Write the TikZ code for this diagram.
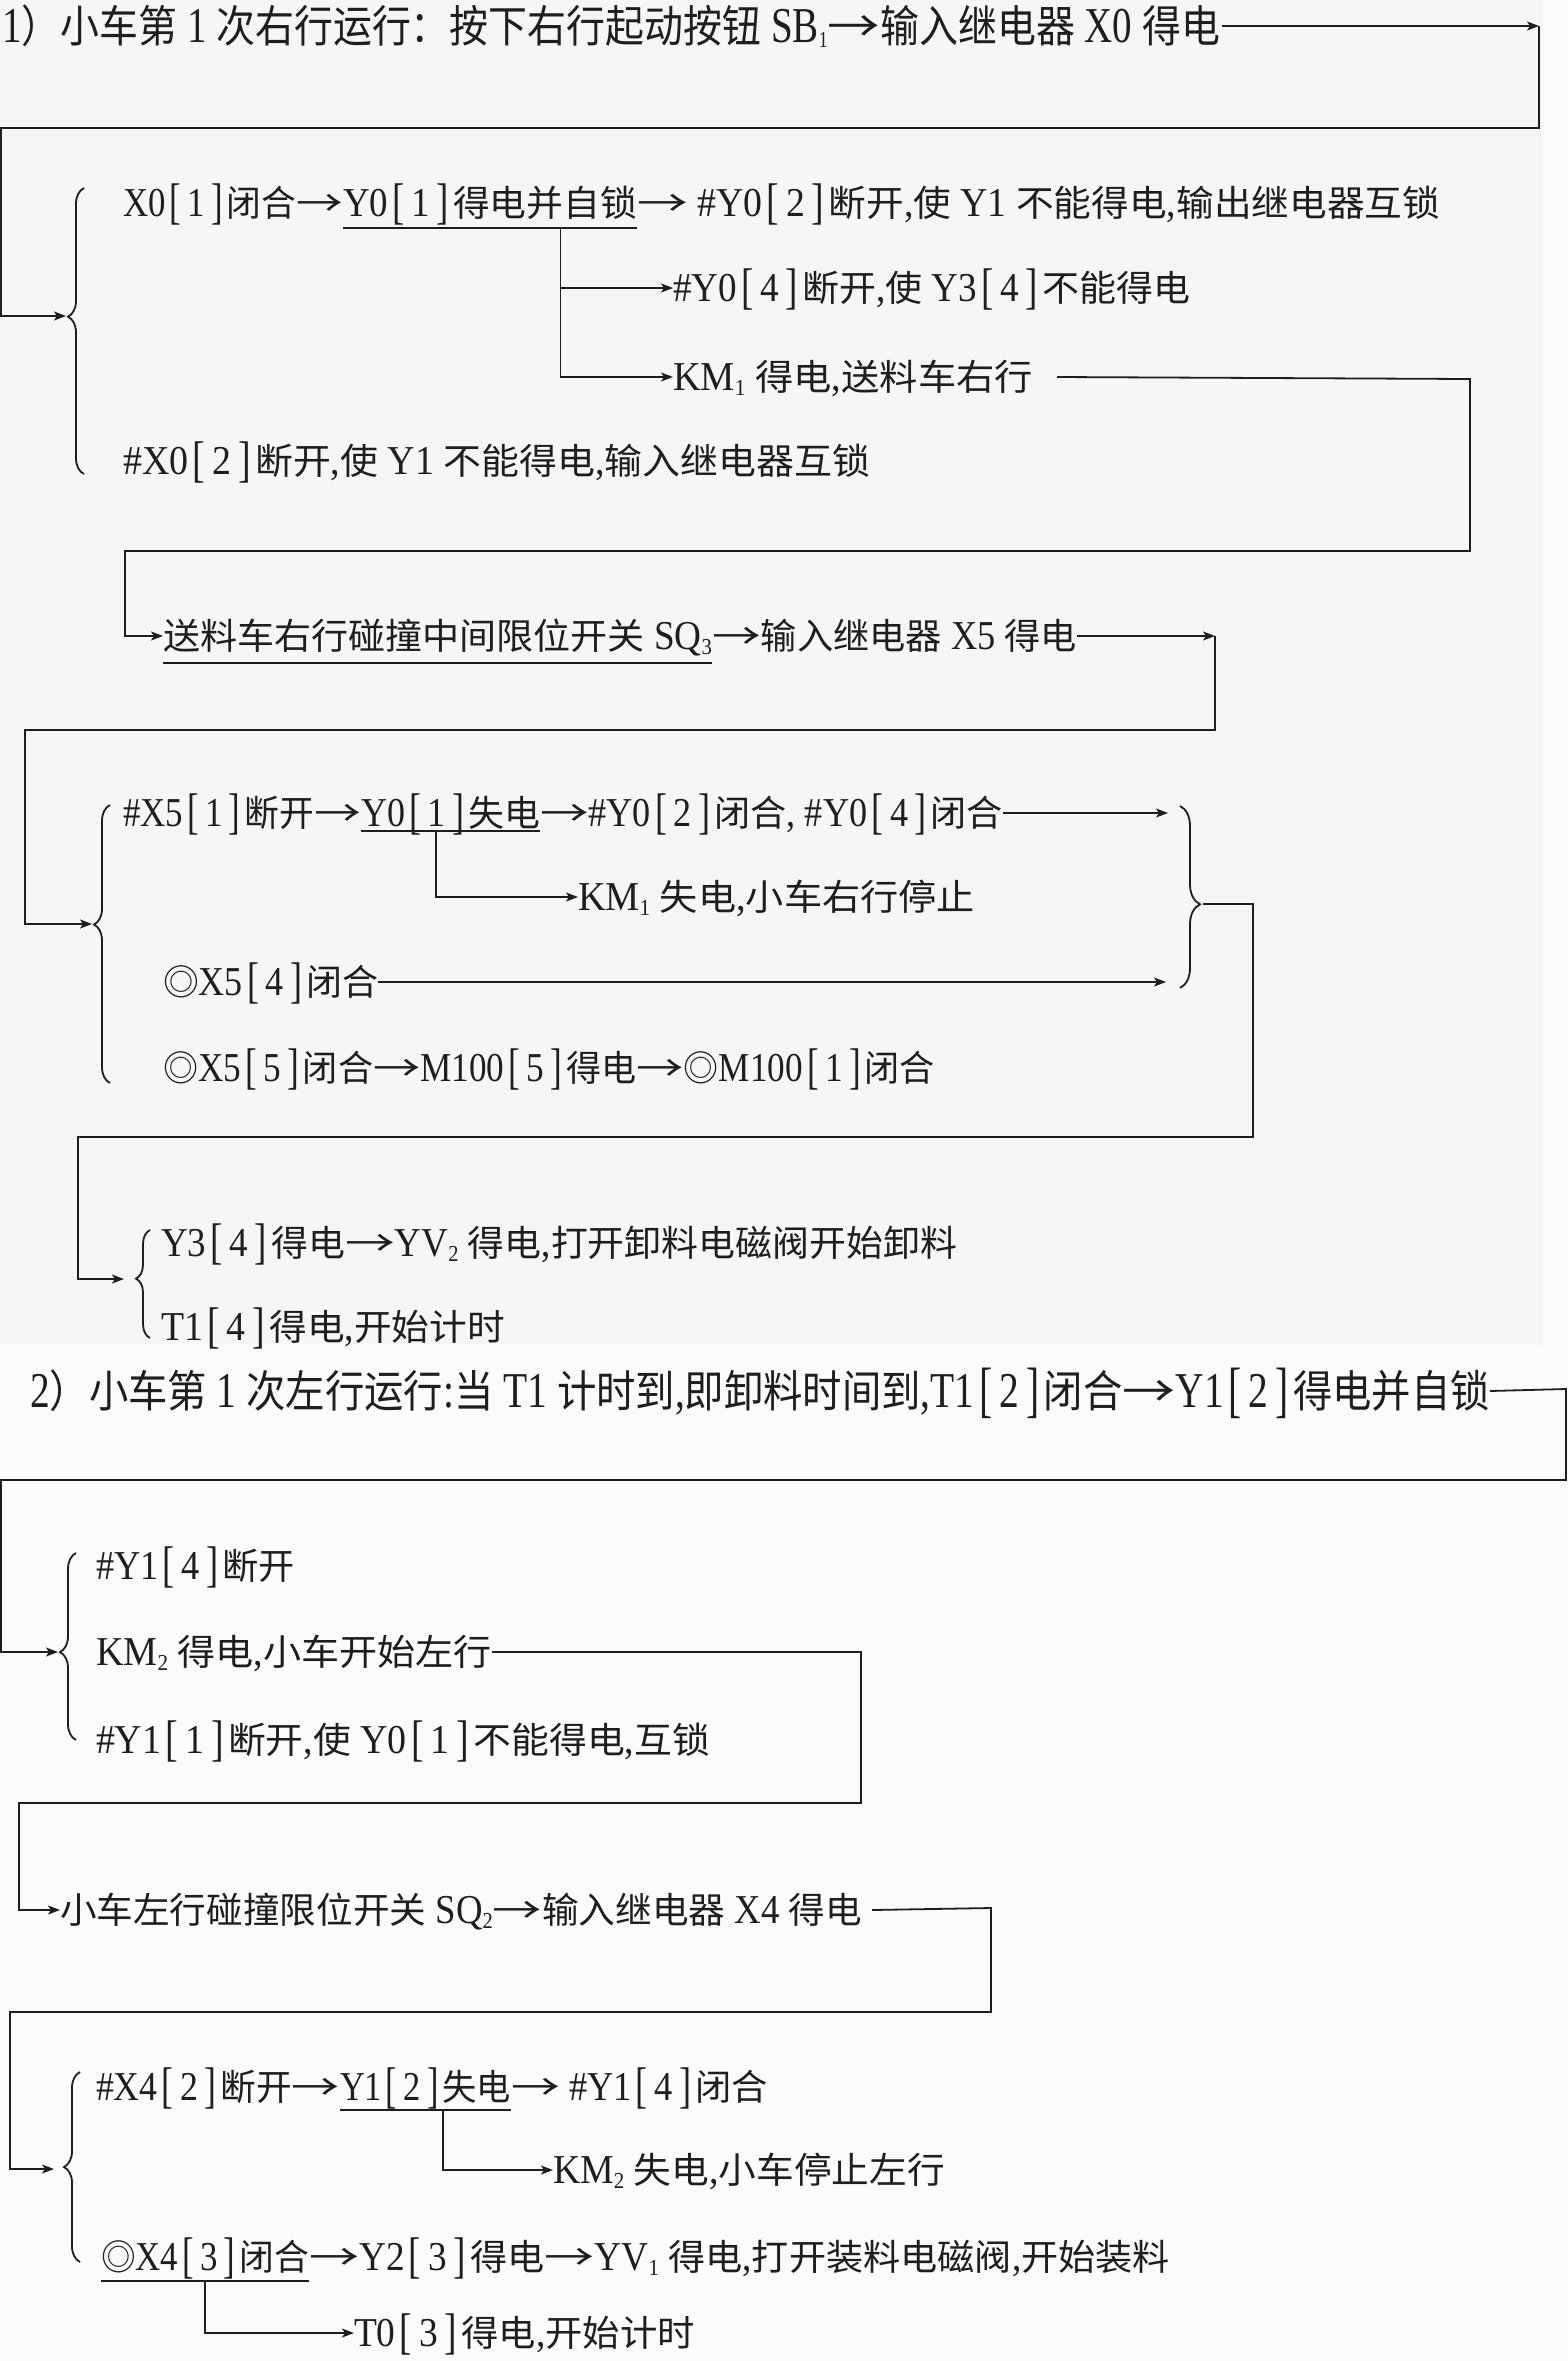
\documentclass[tikz,border=0pt]{standalone}
\usepackage{fontspec}
\usepackage{graphicx}
\setmainfont[Scale=1.14,FakeStretch=0.88]{Liberation Serif}
\newfontfamily\cjkfont{Noto Sans CJK SC}
\usetikzlibrary{arrows.meta,decorations.pathreplacing,calc}
\chardef\CJKcls=7
\makeatletter
\count@="4E00
\loop\XeTeXcharclass\count@=\CJKcls\advance\count@\@ne\ifnum\count@<"A000\repeat
\count@="3000
\loop\XeTeXcharclass\count@=\CJKcls\advance\count@\@ne\ifnum\count@<"3040\repeat
\count@="FF00
\loop\XeTeXcharclass\count@=\CJKcls\advance\count@\@ne\ifnum\count@<"FFF0\repeat
\makeatother
\XeTeXcharclass"25CE=\CJKcls
\XeTeXinterchartoks 0 \CJKcls={\cjkfont}
\XeTeXinterchartoks 4095 \CJKcls={\cjkfont}
\XeTeXinterchartoks \CJKcls 0={\rmfamily}
\XeTeXinterchartoks \CJKcls 4095={\rmfamily}
\XeTeXinterchartokenstate=1
\newcommand\dsub[1]{\raisebox{-5pt}{\fontsize{20}{20}\selectfont #1}}
\newcommand\ar{{\cjkfont\scalebox{1.35}[1]{→}}}
\newcommand\bk[1]{\kern0.1em\raisebox{-0.06em}{\scalebox{1}[1.22]{[}}\kern0.16em#1\kern0.16em\raisebox{-0.06em}{\scalebox{1}[1.22]{]}}\kern0.1em}
\newcommand\fitx[2]{\resizebox{#1pt}{\height}{#2}}
\definecolor{ink}{HTML}{1E1E1E}
\definecolor{bgtop}{HTML}{F6F6F6}
\definecolor{bgbot}{HTML}{FBFBFB}
\tikzset{
  every node/.style={inner sep=0pt, outer sep=0pt, text height=27pt, text depth=0pt,
    font=\fontsize{36}{44}\selectfont, text=ink},
  row/.style={anchor=west},
  nxt/.style={anchor=west},
  ttl/.style={anchor=west, text height=33pt, font=\fontsize{44}{52}\selectfont},
  ln/.style={line width=1.8pt, draw=ink},
  arr/.style={ln, -{Stealth[length=12pt,width=9pt,inset=3pt]}},
  brc/.style={ln, decorate, decoration={brace, amplitude=#1}},
}
\begin{document}
\begin{tikzpicture}[x=1pt,y=-1pt]
\useasboundingbox (0,0) rectangle (1568,2361);
\fill[bgbot] (0,0) rectangle (1568,2361);
\fill[bgtop] (0,0) rectangle (1543,1345);

% ---------- section 1 ----------
\node[ttl] (t1) at (2,26) {\fitx{1218}{1）小车第 1 次右行运行：按下右行起动按钮 SB\dsub{1}\ar 输入继电器 X0 得电}};
\coordinate (k1) at (1539,26);
\coordinate (br1) at (66,316);
\draw[arr] ([xshift=2pt]t1.east) -- (k1);
\draw[arr] (k1) -- (1539,128) -- (1,128) |- (br1);
\draw[brc=16pt, decoration={aspect=0.55}] (84,474) -- (84,188);

\node[row] (a1) at (123,203) {\fitx{220}{X0\bk{1}闭合\ar}};
\node[nxt] (a2) at (a1.east) {\fitx{294}{Y0\bk{1}得电并自锁}};
\node[nxt] (a3) at (a2.east) {\fitx{803}{\ar\ \#Y0\bk{2}断开,使 Y1 不能得电,输出继电器互锁}};
\draw[ln] ($(a2.west)+(0,25)$) -- ($(a2.east)+(0,25)$);
\coordinate (u1) at ($(a2.west)!0.74!(a2.east)+(0,25)$);
\node[row] (b2) at (673,288) {\fitx{517}{\#Y0\bk{4}断开,使 Y3\bk{4}不能得电}};
\node[row] (b3) at (673,377) {\fitx{360}{KM\dsub{1} 得电,送料车右行}};
\draw[arr] (u1) |- (b3.west);
\draw[arr] (u1 |- b2.west) -- (b2.west);
\node[row] (a4) at (123,461) {\fitx{747}{\#X0\bk{2}断开,使 Y1 不能得电,输入继电器互锁}};

\node[row] (c1) at (163,636) {\fitx{549}{送料车右行碰撞中间限位开关 SQ\dsub{3}}};
\node[nxt] (c2) at (c1.east) {\fitx{365}{\ar 输入继电器 X5 得电}};
\draw[ln] ($(c1.west)+(0,27)$) -- ($(c1.east)+(0,27)$);
\draw[arr] ([xshift=24pt]b3.east) -- (1470,379) -- (1470,551) -- (125,551) |- (c1.west);

\coordinate (k2) at (1215,636);
\coordinate (br2) at (92,924);
\draw[arr] (c2.east) -- (k2);
\draw[arr] (k2) |- (25,730) |- (br2);
\draw[brc=16pt, decoration={aspect=0.57}] (110,1083) -- (110,805);

\node[row] (d1) at (123,813) {\fitx{238}{\#X5\bk{1}断开\ar}};
\node[nxt] (d2) at (d1.east) {\fitx{179}{Y0\bk{1}失电}};
\node[nxt] (d3) at (d2.east) {\fitx{463}{\ar\#Y0\bk{2}闭合, \#Y0\bk{4}闭合}};
\draw[ln] ($(d2.west)+(0,18)$) -- ($(d2.east)+(0,18)$);
\coordinate (u2) at ($(d2.west)!0.42!(d2.east)+(0,18)$);
\node[row] (e1) at (578,897) {\fitx{397}{KM\dsub{1} 失电,小车右行停止}};
\draw[arr] (u2) |- (e1.west);
\node[row] (f1) at (163,982) {\fitx{215}{◎X5\bk{4}闭合}};
\node[row] (g1) at (163,1068) {\fitx{772}{◎X5\bk{5}闭合\ar M100\bk{5}得电\ar◎M100\bk{1}闭合}};

\coordinate (rb1) at (1168,813);
\coordinate (rb2) at (1166,982);
\draw[arr] (d3.east) -- (rb1);
\draw[arr] (f1.east) -- (rb2);
\draw[brc=20pt, decoration={aspect=0.54}] (1180,806) -- (1180,988);
\coordinate (rbt) at (1203,904);
\coordinate (br3) at (124,1279);
\draw[arr] (rbt) -- (1253,904) -- (1253,1137) -- (78,1137) |- (br3);
\draw[brc=14pt, decoration={aspect=0.55}] (150,1338) -- (150,1230);
\node[row] (h1) at (161,1243) {\fitx{796}{Y3\bk{4}得电\ar YV\dsub{2} 得电,打开卸料电磁阀开始卸料}};
\node[row] (h2) at (161,1327) {\fitx{344}{T1\bk{4}得电,开始计时}};

% ---------- section 2 ----------
\node[ttl] (s2) at (30,1391) {\fitx{1460}{2）小车第 1 次左行运行:当 T1 计时到,即卸料时间到,T1\bk{2}闭合\ar Y1\bk{2}得电并自锁}};
\coordinate (br4) at (58,1652);
\draw[arr] (s2.east) -- (1566,1389) -- (1566,1480) -- (1,1480) |- (br4);
\draw[brc=16pt, decoration={aspect=0.47}] (76,1740) -- (76,1553);
\node[row] (i1) at (96,1566) {\fitx{199}{\#Y1\bk{4}断开}};
\node[row] (i2) at (96,1652) {\fitx{396}{KM\dsub{2} 得电,小车开始左行}};
\node[row] (i3) at (96,1740) {\fitx{614}{\#Y1\bk{1}断开,使 Y0\bk{1}不能得电,互锁}};

\node[row] (j1) at (60,1910) {\fitx{802}{小车左行碰撞限位开关 SQ\dsub{2}\ar 输入继电器 X4 得电}};
\draw[arr] (i2.east) -- (861,1652) -- (861,1803) -- (19,1803) |- (j1.west);

\coordinate (br5) at (54,2169);
\draw[arr] ([xshift=10pt]j1.east) -- (991,1908) -- (991,2012) -- (10,2012) |- (br5);
\draw[brc=16pt, decoration={aspect=0.5}] (80,2262) -- (80,2072);

\node[row] (m1) at (96,2087) {\fitx{244}{\#X4\bk{2}断开\ar}};
\node[nxt] (m2) at (m1.east) {\fitx{171}{Y1\bk{2}失电}};
\node[nxt] (m3) at (m2.east) {\fitx{257}{\ar\ \#Y1\bk{4}闭合}};
\draw[ln] ($(m2.west)+(0,23)$) -- ($(m2.east)+(0,23)$);
\coordinate (u3) at ($(m2.west)!0.6!(m2.east)+(0,23)$);
\node[row] (n1) at (553,2170) {\fitx{392}{KM\dsub{2} 失电,小车停止左行}};
\draw[arr] (u3) |- (n1.west);

\node[row] (p1) at (101,2257) {\fitx{208}{◎X4\bk{3}闭合}};
\node[nxt] (p2) at (p1.east) {\fitx{861}{\ar Y2\bk{3}得电\ar YV\dsub{1} 得电,打开装料电磁阀,开始装料}};
\draw[ln] ($(p1.west)+(0,24)$) -- ($(p1.east)+(0,24)$);
\coordinate (u4) at ($(p1.west)!0.5!(p1.east)+(0,24)$);
\node[row] (q1) at (354,2333) {\fitx{341}{T0\bk{3}得电,开始计时}};
\draw[arr] (u4) |- (q1.west);
\end{tikzpicture}
\end{document}
